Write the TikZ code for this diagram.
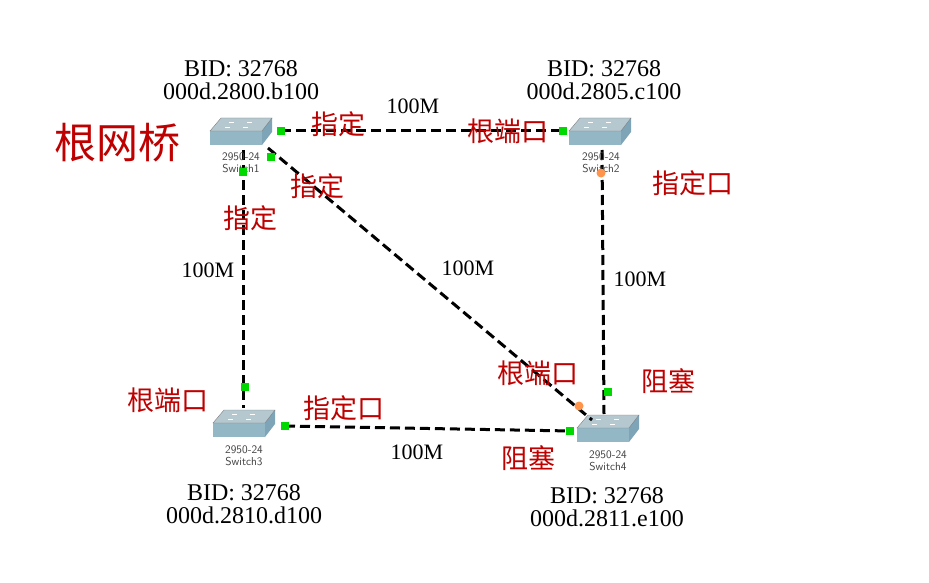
\documentclass[tikz,border=0pt]{standalone}
\usepackage{fontspec}
\setmainfont{Liberation Serif}
\newfontfamily\cjk{Noto Sans CJK SC}
\begin{document}
\begin{tikzpicture}[x=1pt,y=-1pt,
  link/.style={line width=3pt,dash pattern=on 10pt off 5pt},
  gdot/.style={fill=green!85!black,draw=none,minimum size=8pt,inner sep=0pt},
  odot/.style={fill=orange!80!red!70,draw=none,circle,minimum size=9pt,inner sep=0pt},
  red/.style={text=red!75!black,font=\cjk\fontsize{27}{29}\selectfont},
  bid/.style={font=\fontsize{24}{23}\selectfont,align=center},
  bw/.style={font=\fontsize{22}{24}\selectfont},
  sw/.style={font=\sffamily\fontsize{11.5}{12}\selectfont,text=black!75,align=center,inner sep=0pt},
  swbox/.style={minimum width=62pt,minimum height=30pt,inner sep=0pt}]
\useasboundingbox (0,0) rectangle (929,583);
\fill[white] (0,0) rectangle (929,583);
\tikzset{pics/switch/.style={code={
  \fill[cyan!25!gray!55] (-31,0) -- (-20,-13) -- (31,-13) -- (21,0) -- cycle;
  \fill[cyan!35!gray!75] (-31,0) rectangle (21,14);
  \fill[cyan!35!gray!95] (21,0) -- (31,-13) -- (31,1) -- (21,14) -- cycle;
  \draw[gray,line width=0.4pt] (-31,0) -- (-20,-13) -- (31,-13) -- (21,0) -- cycle;
  \foreach \a/\b in {-12/-9,6/-9,-16/-4,2/-4}{\draw[white,line width=0.6pt] (\a,\b) -- ++(5,0);}
}}}
\node[swbox] (s1) at (241,132) {}; \pic at (241,131) {switch};
\node[swbox] (s2) at (600,132) {}; \pic at (600,131) {switch};
\node[swbox] (s3) at (244,424) {}; \pic at (244,423) {switch};
\node[swbox] (s4) at (608,429) {}; \pic at (608,428) {switch};
\coordinate (a1) at (281,131); \coordinate (a2) at (563,131);
\coordinate (b1) at (243,150); \coordinate (b3) at (243,408);
\coordinate (c1) at (268,148); \coordinate (c4) at (592,420);
\coordinate (d2) at (602,150); \coordinate (d4) at (604,414);
\coordinate (e3) at (285,426); \coordinate (e4) at (572,431);
\draw[link] (a1) -- (a2); \draw[link] (b1) -- (b3); \draw[link] (c1) -- (c4);
\draw[link] (d2) -- (d4); \draw[link] (e3) -- (e4);
\node[sw] (l1) at (241,163) {2950-24\\Switch1};
\node[sw] (l2) at (601,163) {2950-24\\Switch2};
\node[sw] (l3) at (244,456) {2950-24\\Switch3};
\node[sw] (l4) at (608,461) {2950-24\\Switch4};
\node[gdot] (g1) at (281,131) {}; \node[gdot] (g2) at (563,131) {};
\node[gdot] (g3) at (271,157) {}; \node[gdot] (g4) at (243,172) {};
\node[gdot] (g5) at (245,387) {}; \node[gdot] (g6) at (285,426) {};
\node[gdot] (g7) at (570,431) {}; \node[gdot] (g8) at (608,392) {};
\node[odot] (o1) at (601,173) {}; \node[odot] (o2) at (579,406) {};
\node[bid] (t1) at (241,80) {BID: 32768\\000d.2800.b100};
\node[bid] (t2) at (604,80) {BID: 32768\\000d.2805.c100};
\node[bid] (t3) at (244,504) {BID: 32768\\000d.2810.d100};
\node[bid] (t4) at (607,507) {BID: 32768\\000d.2811.e100};
\node[bw] (m1) at (413,106) {100M};
\node[bw] (m2) at (208,270) {100M};
\node[bw] (m3) at (468,268) {100M};
\node[bw] (m4) at (640,279) {100M};
\node[bw] (m5) at (417,452) {100M};
\node[red,font=\cjk\fontsize{42}{44}\selectfont] (r0) at (117,143) {根网桥};
\node[red] (r1) at (338,124) {指定};
\node[red] (r2) at (508,131) {根端口};
\node[red] (r3) at (317,186) {指定};
\node[red] (r4) at (250,218) {指定};
\node[red] (r5) at (693,183) {指定口};
\node[red] (r6) at (168,400) {根端口};
\node[red] (r7) at (344,408) {指定口};
\node[red] (r8) at (538,373) {根端口};
\node[red] (r9) at (668,381) {阻塞};
\node[red] (r10) at (528,458) {阻塞};
\end{tikzpicture}
\end{document}
